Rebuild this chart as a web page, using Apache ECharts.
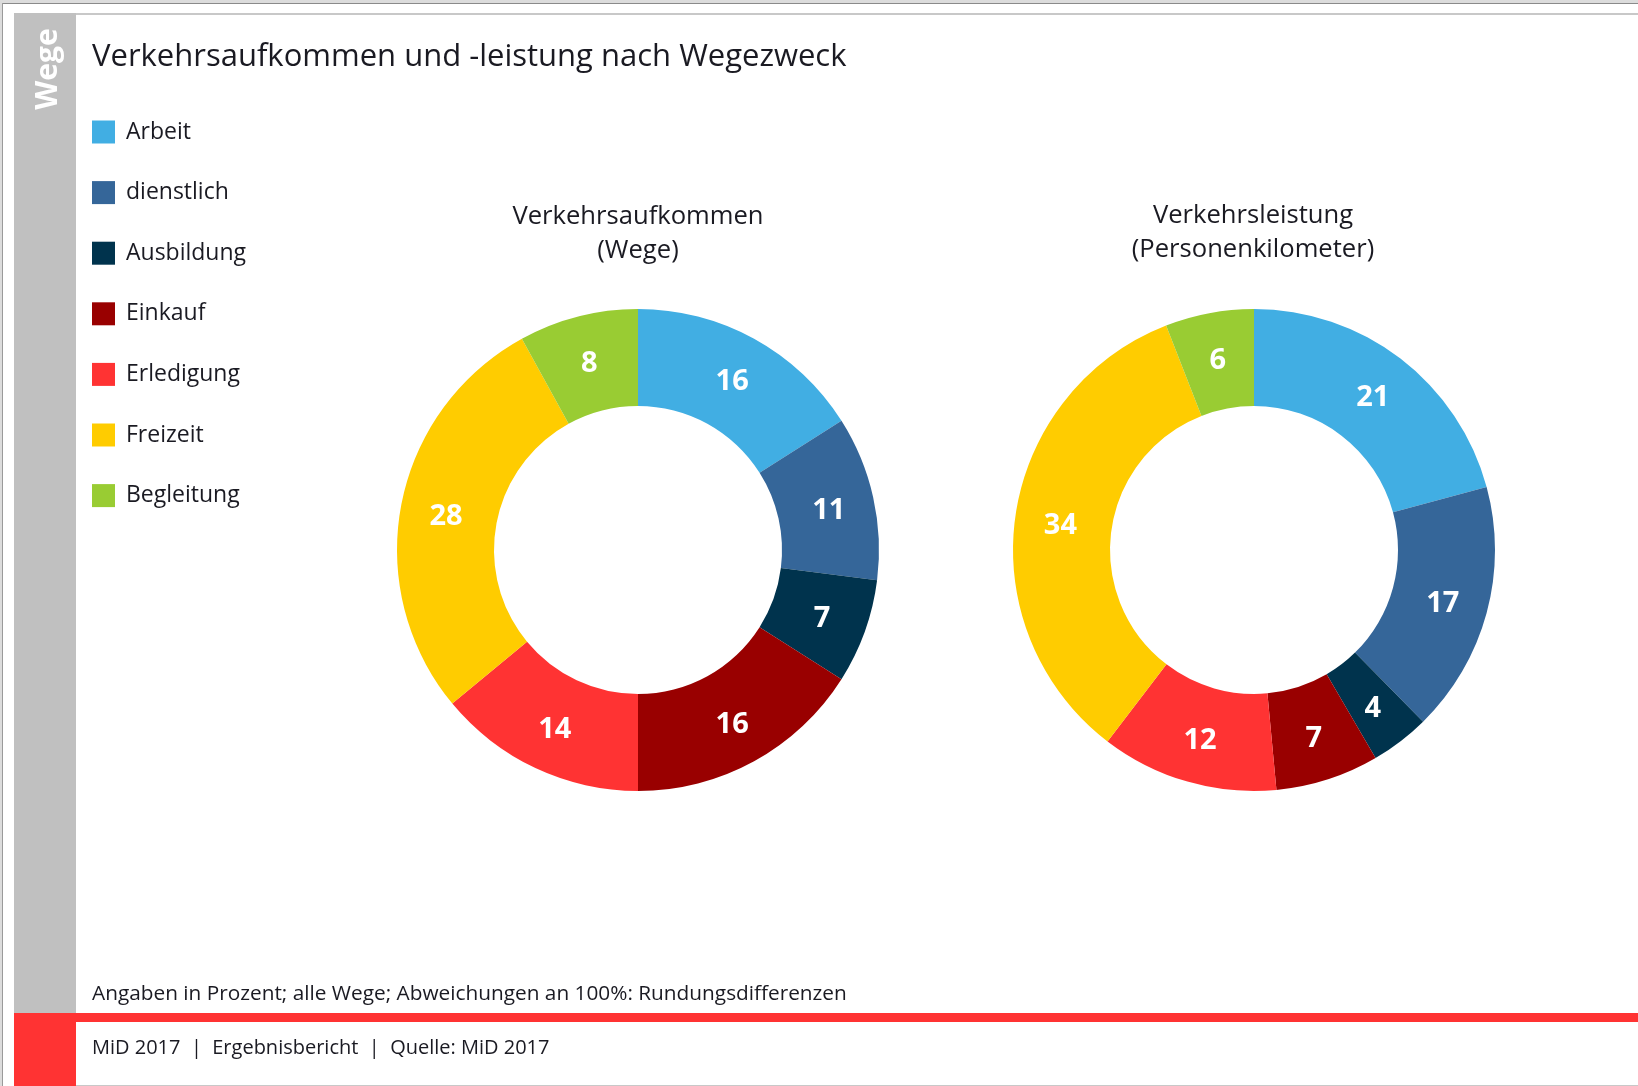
<!DOCTYPE html>
<html lang="de">
<head>
	<meta charset="UTF-8">
	<title>Verkehrsaufkommen und -leistung nach Wegezweck</title>
	<script src="https://cdn.jsdelivr.net/npm/echarts@6/dist/echarts.min.js"></script>
	<style>
		html, body { margin:0; padding:0; background:#fff; }
		#chart { width:1638px; height:1086px; }
	</style>
</head>
<body>
	<div id="chart"></div>

	<script>
	/* Daten */
	var categories = ['Arbeit', 'dienstlich', 'Ausbildung', 'Einkauf', 'Erledigung', 'Freizeit', 'Begleitung'];
	var wege = [16, 11, 7, 16, 14, 28, 8];
	var personenkm = [21, 17, 4, 7, 12, 34, 6];
	var colors = ['#41AEE3', '#356699', '#00334D', '#990000', '#FF3333', '#FFCC00', '#99CC33'];

	var fontMain = '"Open Sans", "Noto Sans", sans-serif';
	var textColor = '#1a1a22';

	function toData(values) {
		return categories.map(function (name, i) {
			return { name: name, value: values[i] };
		});
	}

	function ring(center, values) {
		return {
			type: 'pie',
			center: center,
			radius: [144, 241],
			startAngle: 90,
			clockwise: true,
			silent: true,
			avoidLabelOverlap: false,
			itemStyle: { borderWidth: 0 },
			label: {
				show: true,
				position: 'inside',
				formatter: '{c}',
				offset: [0, 3],
				color: '#fff',
				fontFamily: fontMain,
				fontWeight: 'bold',
				fontSize: 29
			},
			labelLine: { show: false },
			emphasis: { disabled: true },
			data: toData(values)
		};
	}

	var chart = echarts.init(document.getElementById('chart'), null, { renderer: 'canvas' });

	var option = {
		backgroundColor: '#fff',
		animation: false,
		color: colors,
		title: [
			{
				text: 'Verkehrsaufkommen und -leistung nach Wegezweck',
				left: 92,
				top: 38,
				padding: 0,
				textStyle: { fontFamily: fontMain, fontWeight: 'normal', fontSize: 31, lineHeight: 38, color: textColor }
			},
			{
				text: 'Verkehrsaufkommen\n(Wege)',
				left: 638,
				top: 200,
				padding: 0,
				textAlign: 'center',
				textStyle: { fontFamily: fontMain, fontWeight: 'normal', fontSize: 25.6, lineHeight: 34, color: textColor, align: 'center' }
			},
			{
				text: 'Verkehrsleistung\n(Personenkilometer)',
				left: 1253,
				top: 199,
				padding: 0,
				textAlign: 'center',
				textStyle: { fontFamily: fontMain, fontWeight: 'normal', fontSize: 25.6, lineHeight: 34, color: textColor, align: 'center' }
			}
		],
		legend: {
			orient: 'vertical',
			left: 92,
			top: 120.5,
			padding: 0,
			itemWidth: 23,
			itemHeight: 23,
			itemGap: 37.6,
			icon: 'rect',
			selectedMode: false,
			textStyle: { fontFamily: fontMain, fontSize: 23, lineHeight: 23, color: textColor, padding: [0, 0, 0, 6] },
			data: categories
		},
		series: [
			ring([638, 550], wege),
			ring([1254, 550], personenkm)
		],
		graphic: [
			// Rahmen
			{ type: 'rect', shape: { x: 0, y: 0, width: 1638, height: 3 }, style: { fill: '#dcdcdc' }, silent: true },
			{ type: 'rect', shape: { x: 0, y: 3, width: 1638, height: 1 }, style: { fill: '#8a8a8a' }, silent: true },
			{ type: 'rect', shape: { x: 0, y: 0, width: 2, height: 1086 }, style: { fill: '#dcdcdc' }, silent: true },
			{ type: 'rect', shape: { x: 2, y: 3, width: 1, height: 1083 }, style: { fill: '#9a9a9a' }, silent: true },
			{ type: 'rect', shape: { x: 14, y: 13, width: 1624, height: 2 }, style: { fill: '#c8c8c8' }, silent: true },
			{ type: 'rect', shape: { x: 14, y: 1085, width: 1624, height: 1 }, style: { fill: '#c8c8c8' }, silent: true },
			// Seitenleiste
			{ type: 'rect', shape: { x: 14, y: 13, width: 62, height: 1001 }, style: { fill: '#C0C0C0' }, silent: true },
			{ type: 'rect', shape: { x: 14, y: 1013, width: 1624, height: 9 }, style: { fill: '#FF3333' }, silent: true },
			{ type: 'rect', shape: { x: 14, y: 1013, width: 62, height: 73 }, style: { fill: '#FF3333' }, silent: true },
			{
				type: 'text', x: 48, y: 69, rotation: Math.PI / 2, silent: true,
				style: { text: 'Wege', fill: '#fff', font: 'bold 30px ' + fontMain, align: 'center', verticalAlign: 'middle' }
			},
			// Fußnoten
			{
				type: 'text', x: 92, y: 994, silent: true,
				style: { text: 'Angaben in Prozent; alle Wege; Abweichungen an 100%: Rundungsdifferenzen', fill: textColor, font: '20.8px ' + fontMain, verticalAlign: 'middle' }
			},
			{
				type: 'text', x: 92, y: 1048, silent: true,
				style: { text: 'MiD 2017  |  Ergebnisbericht  |  Quelle: MiD 2017', fill: textColor, font: '20px ' + fontMain, verticalAlign: 'middle' }
			}
		]
	};

	chart.setOption(option);
	</script>
</body>
</html>
